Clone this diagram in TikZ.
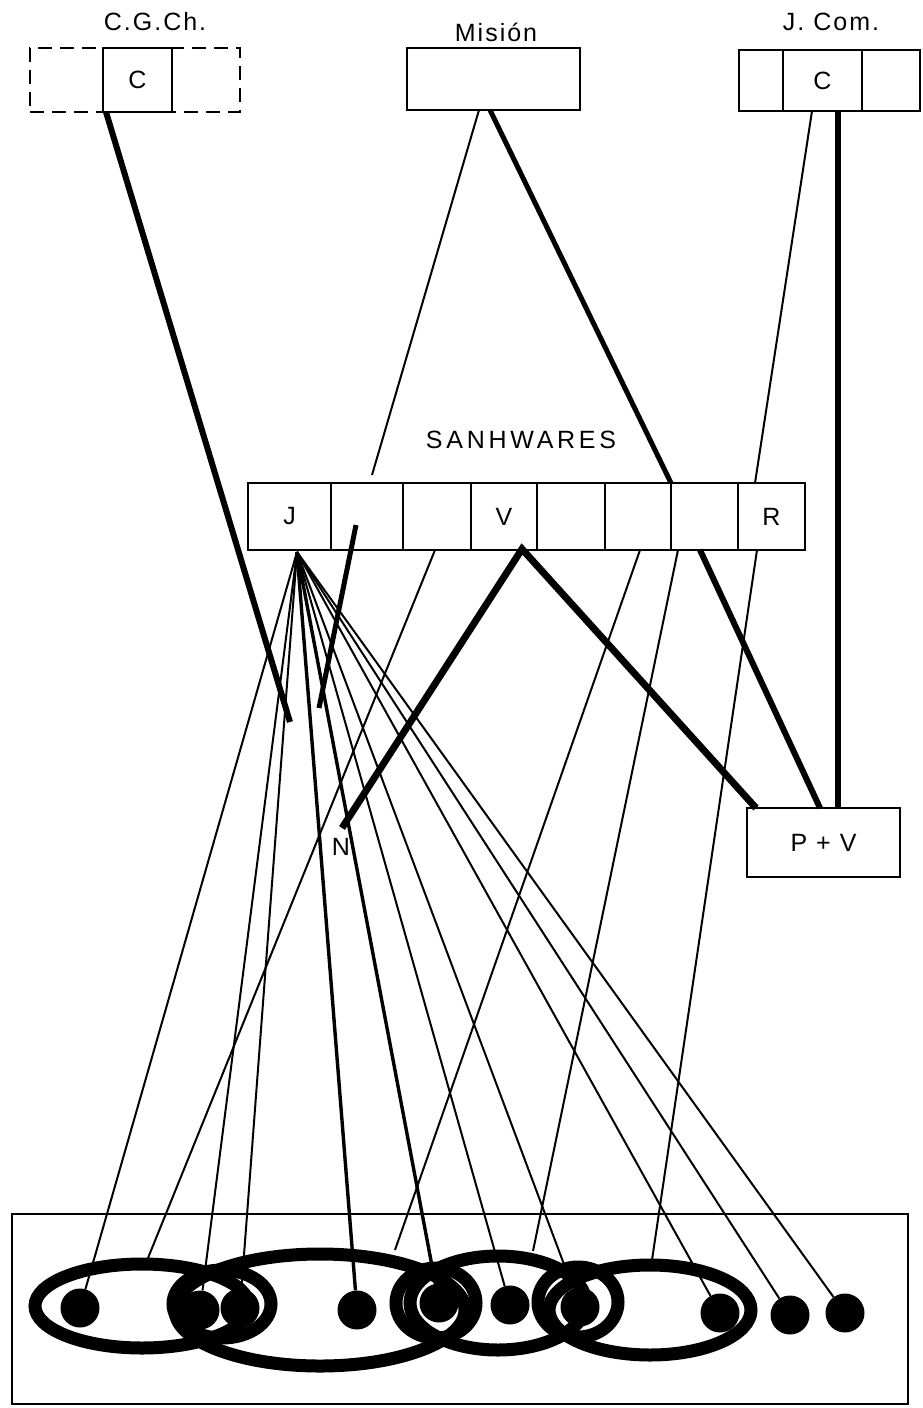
\documentclass[tikz,border=0pt]{standalone}
\usepackage{fontspec}
\setmainfont{Liberation Sans}
\newfontfamily\labfont[LetterSpace=8]{Liberation Sans}
\newfontfamily\widefont[LetterSpace=15]{Liberation Sans}
\begin{document}
\begin{tikzpicture}[x=1pt,y=-1pt]
\tikzset{
  lab/.style={font=\labfont\fontsize{25}{29}\selectfont, inner sep=0pt},
  box/.style={draw, line width=2.5pt, inner sep=0pt, font=\labfont\fontsize{25}{29}\selectfont},
  dashbox/.style={draw, line width=2.5pt, dash pattern=on 14pt off 8pt, inner sep=0pt},
  cell/.style={box, minimum height=67},
  thinln/.style={line width=2pt},
  medln/.style={line width=3.4pt},
  thickln/.style={line width=6pt},
  dot/.style={circle, fill=black, minimum size=39, inner sep=0pt},
  ring/.style={line width=13pt},
}
\useasboundingbox (0,0) rectangle (922,1408);
% ---------- top boxes ----------
\node[lab] (cgchlab) at (155,22) {C.G.Ch.};
\node[lab] (mislab) at (496,32) {Misión};
\node[lab] (jcomlab) at (831,22) {J. Com.};
\node[dashbox, minimum width=210, minimum height=64] (cgch) at (135,80) {};
\node[box, minimum width=69, minimum height=64] (cgc) at (137.5,80) {C};
\node[box, minimum width=173, minimum height=62] (mis) at (493.5,79) {};
\node[box, minimum width=44, minimum height=61] (jc1) at (761,80.5) {};
\node[box, minimum width=79, minimum height=61] (jcc) at (822.5,80.5) {C};
\node[box, minimum width=58, minimum height=61] (jc3) at (891,80.5) {};
% ---------- SANHWARES ----------
\node[font=\widefont\fontsize{25}{29}\selectfont, inner sep=0pt] (sanlab) at (521,440) {SANHWARES};
\node[cell, minimum width=83] (c1) at (289.5,516.5) {J};
\node[cell, minimum width=72] (c2) at (367,516.5) {};
\node[cell, minimum width=68] (c3) at (437,516.5) {};
\node[cell, minimum width=66] (c4) at (504,516.5) {V};
\node[cell, minimum width=68] (c5) at (571,516.5) {};
\node[cell, minimum width=66] (c6) at (638,516.5) {};
\node[cell, minimum width=67] (c7) at (704.5,516.5) {};
\node[cell, minimum width=67] (c8) at (771.5,516.5) {R};
% ---------- P+V and N ----------
\node[box, minimum width=153, minimum height=69] (pv) at (823.5,842.5) {P\hspace{9pt}+\hspace{9pt}V};
\node[lab] (nlab) at (341,847) {N};
% ---------- bottom ----------
\draw[line width=2.5pt] (12,1214) rectangle (908,1404);
\draw[ring] (142,1306) ellipse [x radius=107pt, y radius=42pt];
\draw[ring] (320,1310) ellipse [x radius=145pt, y radius=56pt];
\draw[ring] (222,1304) ellipse [x radius=49pt, y radius=34pt];
\draw[ring] (498,1303) ellipse [x radius=88pt, y radius=47pt];
\draw[ring] (650,1310) ellipse [x radius=101pt, y radius=45pt];
\draw[ring] (436,1303) ellipse [x radius=40pt, y radius=35pt];
\draw[ring] (578,1302) ellipse [x radius=40pt, y radius=35pt];
\node[dot] (d1) at (80,1308) {};
\node[dot] (d2) at (200,1310) {};
\node[dot] (d3) at (240,1308) {};
\node[dot] (d4) at (357,1310) {};
\node[dot] (d5) at (439,1303) {};
\node[dot] (d6) at (510,1305) {};
\node[dot] (d7) at (580,1307) {};
\node[dot] (d8) at (720,1313) {};
\node[dot] (d9) at (790,1315) {};
\node[dot] (d10) at (845,1313) {};
% ---------- coordinates ----------
\coordinate (a1) at (106,112);
\coordinate (a2) at (290,722);
\coordinate (m1) at (479,110);
\coordinate (m2) at (372,475);
\coordinate (m3) at (490,110);
\coordinate (m4) at (671,483);
\coordinate (j1) at (812,111);
\coordinate (r1) at (755,483);
\coordinate (j2) at (838,111);
\coordinate (j3) at (838,808);
\coordinate (vo) at (522,549);
\coordinate (n1) at (342,828);
\coordinate (pv1) at (756,808);
\coordinate (c7b) at (700,550);
\coordinate (pv2) at (820,808);
\coordinate (c2a) at (356,525);
\coordinate (c2b) at (319,708);
\coordinate (c3b) at (435,550);
\coordinate (c6b) at (640,550);
\coordinate (c7c) at (678,550);
\coordinate (c8b) at (757,550);
\coordinate (e1t) at (148,1258);
\coordinate (e3t) at (395,1250);
\coordinate (e5t) at (533,1251);
\coordinate (e7t) at (652,1260);
\coordinate (jo) at (297,552);
% ---------- connectors ----------
\draw[thickln] (a1) -- (a2);
\draw[thinln] (m1) -- (m2);
\draw[line width=5pt] (m3) -- (m4);
\draw[thinln] (j1) -- (r1);
\draw[thickln] (j2) -- (j3);
\draw[line width=7pt] (n1) -- (vo) -- (pv1);
\draw[thickln] (c7b) -- (pv2);
\draw[line width=5pt] (c2a) -- (c2b);
\draw[thinln] (c3b) -- (e1t);
\draw[thinln] (c6b) -- (e3t);
\draw[thinln] (c7c) -- (e5t);
\draw[thinln] (c8b) -- (e7t);
\foreach \d in {d1,d2,d3,d6,d7,d8,d9,d10} \draw[thinln] (jo) -- (\d);
\draw[medln] (jo) -- (d4);
\draw[medln] (jo) -- (d5);
\end{tikzpicture}
\end{document}
